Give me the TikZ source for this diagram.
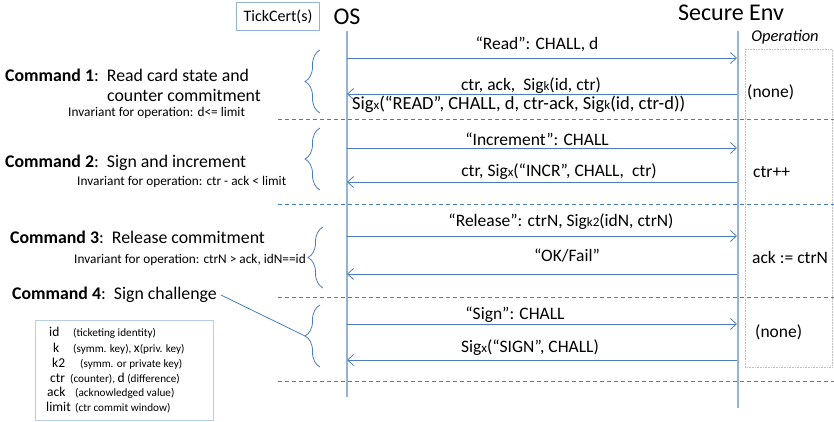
\documentclass[tikz,border=0pt]{standalone}
\usepackage{fontspec}
\setmainfont{Carlito}
\usetikzlibrary{arrows.meta,decorations.pathreplacing}

\definecolor{msgblue}{HTML}{4A7EBB}
\definecolor{lifeblue}{HTML}{95B3D7}
\definecolor{legline}{HTML}{B9CDE5}
\definecolor{opgray}{HTML}{BFBFBF}

% smaller letter after "Sig"
\newcommand{\sigsub}[1]{{\fontsize{13}{14}\selectfont #1}}

\tikzset{
  msg/.style={draw=msgblue, line width=.8pt, -{Straight Barb[length=6pt,width=11pt]}},
  life/.style={draw=lifeblue, line width=1.8pt},
  sep/.style={draw=msgblue, line width=.8pt, dash pattern=on 4pt off 3pt},
  brc/.style={draw=msgblue, line width=.8pt, decorate, decoration={brace, amplitude=15pt}},
  lbl/.style={font=\fontsize{17.5}{20}\selectfont, inner sep=0pt},
  cmd/.style={font=\fontsize{17.8}{20}\selectfont, inner sep=0pt, anchor=west},
  inv/.style={font=\fontsize{13.3}{15}\selectfont, inner sep=0pt, anchor=west},
  key/.style={font=\fontsize{13.5}{15}\selectfont, inner sep=0pt, anchor=west},
  desc/.style={font=\fontsize{11.2}{13}\selectfont, inner sep=0pt, anchor=west},
  hdr/.style={font=\fontsize{24}{27}\selectfont, inner sep=0pt},
}

\begin{document}
\begin{tikzpicture}[x=1pt,y=-1pt]
  \useasboundingbox (0,0) rectangle (834,422);

  % headers
  \path (278,16.5) node[draw=lifeblue, line width=.8pt, minimum width=83pt, minimum height=28pt, inner sep=0pt, font=\fontsize{16}{18}\selectfont] (tick) {TickCert(s)};
  \path (347,17) node[hdr] (os) {OS};
  \path (731,13) node[hdr] (se) {Secure Env};
  \path (785,37) node[font=\fontsize{16.5}{18}\selectfont\itshape, inner sep=0pt] (optitle) {Operation};

  % operation column
  \draw[opgray, densely dotted, line width=.6pt] (745,49) rectangle (832,367);

  % lifelines
  \coordinate (ostop) at (347,31);
  \coordinate (osbot) at (347,397);
  \coordinate (setop) at (738,31);
  \coordinate (sebot) at (738,408);
  \draw[life] (ostop) -- (osbot);
  \draw[life] (setop) -- (sebot);

  % separators
  \foreach \y/\n in {119/1,204/2,297/3,381/4} {
    \coordinate (sepa\n) at (278,\y);
    \coordinate (sepb\n) at (834,\y);
    \draw[sep] (sepa\n) -- (sepb\n);
  }

  % message end points
  \foreach \y/\n in {58/1,94/2,148/3,182/4,236/5,274/6,324/7,360/8} {
    \coordinate (o\n) at (347,\y);
    \coordinate (s\n) at (737,\y);
  }

  % command 1
  \draw[msg] (o1) -- (s1);
  \draw[msg] (s2) -- (o2);
  \path (537,44) node[lbl] (m1) {“Read”: CHALL, d};
  \path (531,86) node[lbl] (m2) {ctr, ack,\ \ Sig\sigsub{k}(id, ctr)};
  \path (352,104) node[lbl, anchor=west, font=\fontsize{18.5}{20}\selectfont] (m2b) {Sig\sigsub{x}(“READ”, CHALL, d, ctr-ack, Sig\sigsub{k}(id, ctr-d))};

  % command 2
  \draw[msg] (o3) -- (s3);
  \draw[msg] (s4) -- (o4);
  \path (537,139) node[lbl] (m3) {“Increment”: CHALL};
  \path (559,172) node[lbl] (m4) {ctr, Sig\sigsub{x}(“INCR”, CHALL,\ \ ctr)};

  % command 3
  \draw[msg] (o5) -- (s5);
  \draw[msg] (s6) -- (o6);
  \path (561,222) node[lbl] (m5) {“Release”: ctrN, Sig\sigsub{k2}(idN, ctrN)};
  \path (567,256) node[lbl] (m6) {“OK/Fail”};

  % command 4
  \draw[msg] (o7) -- (s7);
  \draw[msg] (s8) -- (o8);
  \path (515,315) node[lbl] (m7) {“Sign”: CHALL};
  \path (530,348) node[lbl] (m8) {Sig\sigsub{x}(“SIGN”, CHALL)};

  % operations
  \path (747,92) node[lbl, anchor=west] (op1) {(none)};
  \path (753,172) node[lbl, anchor=west] (op2) {ctr++};
  \path (752,257) node[lbl, anchor=west] (op3) {ack := ctrN};
  \path (755,332) node[lbl, anchor=west] (op4) {(none)};

  % braces
  \draw[brc] (320,113) -- (320,50);
  \draw[brc] (320,190) -- (320,128);
  \draw[brc] (323,288) -- (323,227);
  \draw[brc] (320,367) -- (320,305);
  \coordinate (b4tip) at (305,336);

  % command texts
  \path (5,75) node[cmd] (c1) {\textbf{Command 1}:\ \ Read card state and};
  \path (107,95) node[cmd] (c1b) {counter commitment};
  \path (68,113) node[inv] (i1) {Invariant for operation: d<= limit};
  \path (5,163) node[cmd] (c2) {\textbf{Command 2}:\ \ Sign and increment};
  \path (77,182) node[inv] (i2) {Invariant for operation: ctr - ack < limit};
  \path (10,237) node[cmd] (c3) {\textbf{Command 3}:\ \ Release commitment};
  \path (74,260) node[inv] (i3) {Invariant for operation: ctrN > ack, idN==id};
  \path (12,295) node[cmd] (c4) {\textbf{Command 4}:\ \ Sign challenge};
  \draw[msgblue, line width=.8pt] ([xshift=4pt]c4.east) -- (b4tip);

  % legend
  \draw[legline, line width=.8pt] (35,320) rectangle (213,420);
  \path (49,332) node[key] (k1) {id}          (73,333) node[desc] (d1) {(ticketing identity)};
  \path (53,348) node[key] (k2) {k}           (73,349) node[desc] (d2) {(symm. key), {\fontsize{13.5}{15}\selectfont x}(priv. key)};
  \path (52,363) node[key] (k3) {k2}          (80,364) node[desc] (d3) {(symm. or private key)};
  \path (50,378) node[key] (k4) {ctr}         (70,379) node[desc] (d4) {(counter), {\fontsize{13.5}{15}\selectfont d} (difference)};
  \path (47,392) node[key] (k5) {ack}         (75,393) node[desc] (d5) {(acknowledged value)};
  \path (46,407) node[key] (k6) {limit}       (75,408) node[desc] (d6) {(ctr commit window)};

\end{tikzpicture}
\end{document}
